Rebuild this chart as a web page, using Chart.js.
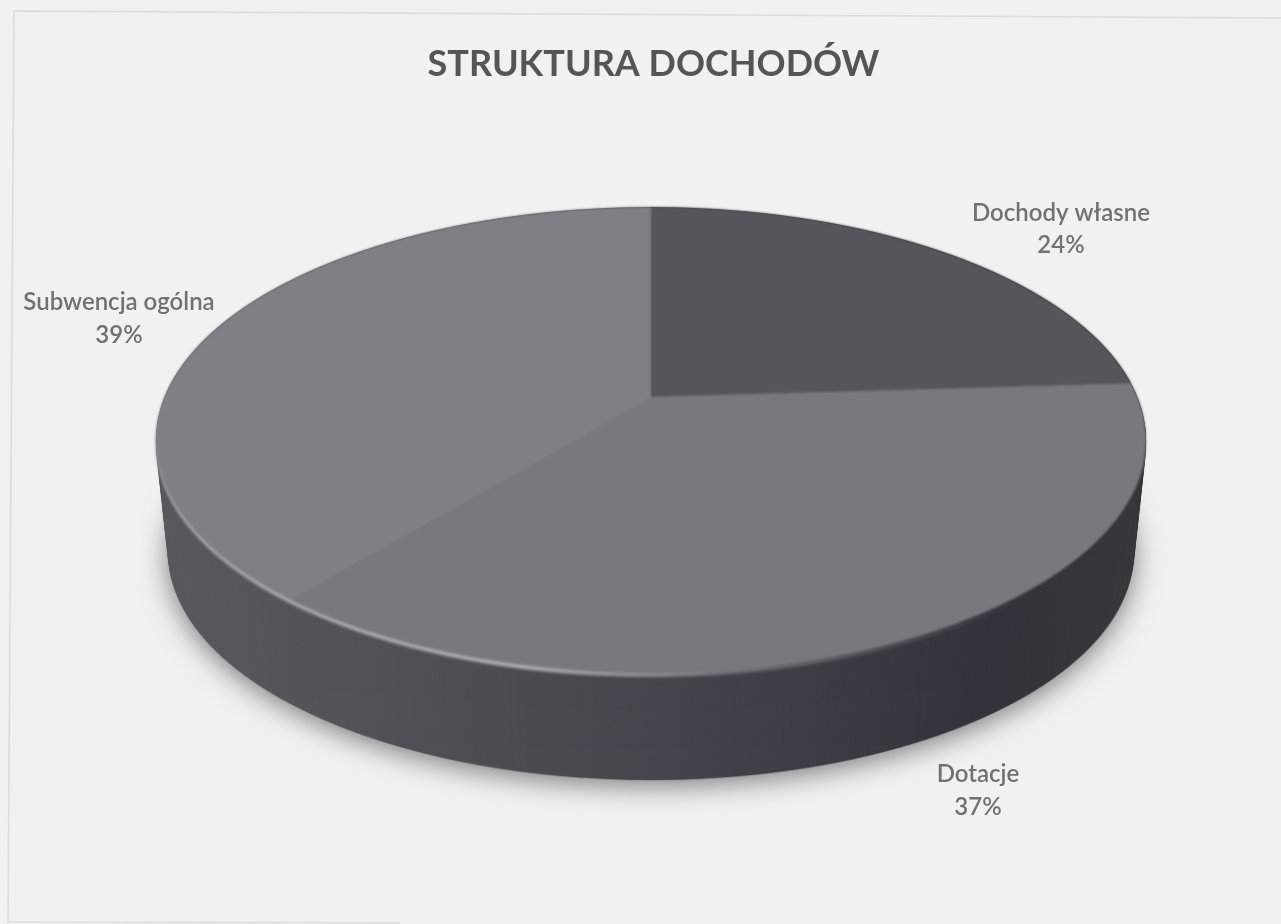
<!DOCTYPE html>
<html lang="pl">
<head>
<meta charset="utf-8">
<title>Struktura dochodów</title>
<script src="https://cdn.jsdelivr.net/npm/chart.js@4/dist/chart.umd.min.js"></script>
<style>
  html, body { margin: 0; padding: 0; background: #f1f1f1; overflow: hidden; }
  canvas { display: block; }
</style>
</head>
<body>
<canvas id="chart" width="1281" height="924"></canvas>
<script>
const CATEGORIES = ['Dochody własne', 'Dotacje', 'Subwencja ogólna'];
const SHARES = [24, 37, 39];
const FACE_COLORS = ['#55555b', '#78787f', '#7f7f85'];

// where each label is centred (first line, second line)
const LABEL_SPOTS = [[1061, 213, 245], [978, 774, 807], [119, 302, 335]];

// perspective of the disc: apex position and projection constants
const APEX_X = 651, APEX_Y = 397;
const TOP_Y = 207, BOTTOM_Y = 673;
const SPREAD_X = 486.5, SPREAD_Y = 225, TILT = 0.1845;
const WALL_DROP = 113, WALL_SHRINK = 0.025, WALL_STEPS = 110;

// project the unit disc row by row, so the apex sits off centre like in a 3D pie
function paintDisc(target, arcs, fills) {
    const R = arcs[0].outerRadius;
    const cx = arcs[0].x, cy = arcs[0].y;
    for (let row = TOP_Y; row <= BOTTOM_Y; row++) {
        const t = row + 0.5 - APEX_Y;
        const v = t / (SPREAD_Y + TILT * t);
        const w = 1 - TILT * v;
        const sx = SPREAD_X / (w * R);
        const sy = SPREAD_Y / (w * w * R);
        target.save();
        target.beginPath();
        target.rect(0, row, target.canvas.width, 1);
        target.clip();
        target.transform(sx, 0, 0, sy, APEX_X - cx * sx, row + 0.5 - (cy + v * R) * sy);
        arcs.forEach((arc, i) => {
            const keep = arc.options;
            arc.options = Object.assign({}, keep, { backgroundColor: fills(target, arc, i) });
            arc.draw(target);
            arc.options = keep;
        });
        target.restore();
    }
}

function layer(chart) {
    const c = document.createElement('canvas');
    c.width = chart.width;
    c.height = chart.height;
    return c;
}

function sweep(ctx, arc, stops) {
    const g = ctx.createLinearGradient(arc.x - arc.outerRadius, 0, arc.x + arc.outerRadius, 0);
    stops.forEach(s => g.addColorStop(s[0], s[1]));
    return g;
}

const WALL_STOPS = [[0, '#5b5d60'], [0.3, '#505157'], [0.55, '#43444b'], [0.8, '#34343c'], [1, '#3a3c3d']];
const RIM_STOPS = [[0, 'rgba(170,172,172,0.9)'], [0.4, 'rgba(172,172,176,1)'], [0.62, 'rgba(140,140,146,0.5)'], [0.85, 'rgba(120,120,126,0)'], [1, 'rgba(120,120,126,0)']];

const disc3d = {
    id: 'disc3d',
    beforeDraw(chart) {
        const ctx = chart.ctx;
        ctx.save();
        ctx.strokeStyle = '#dcdcdc';
        ctx.lineWidth = 1.5;
        ctx.beginPath();
        ctx.moveTo(1281, 18);
        ctx.lineTo(14, 11);
        ctx.lineTo(8, 922);
        ctx.lineTo(400, 923);
        ctx.stroke();
        ctx.restore();
    },
    beforeDatasetsDraw(chart) {
        const ctx = chart.ctx;
        const arcs = chart.getDatasetMeta(0).data;

        const wall = layer(chart);
        paintDisc(wall.getContext('2d'), arcs, (t, arc) => sweep(t, arc, WALL_STOPS));
        const rim = layer(chart);
        paintDisc(rim.getContext('2d'), arcs, (t, arc) => sweep(t, arc, RIM_STOPS));
        const face = layer(chart);
        paintDisc(face.getContext('2d'), arcs, (t, arc, i) => FACE_COLORS[i]);

        const midY = (TOP_Y + BOTTOM_Y) / 2;
        ctx.save();
        for (let step = WALL_STEPS; step >= 0; step--) {
            const f = step / WALL_STEPS;
            const s = 1 - WALL_SHRINK * f;
            if (step === WALL_STEPS) {
                ctx.shadowColor = 'rgba(40,40,40,0.6)';
                ctx.shadowBlur = 28;
                ctx.shadowOffsetY = 5;
            } else {
                ctx.shadowColor = 'transparent';
            }
            ctx.drawImage(wall,
                APEX_X - APEX_X * s,
                midY + WALL_DROP * f - midY * s,
                wall.width * s, wall.height * s);
        }
        ctx.filter = 'blur(1.5px)';
        ctx.drawImage(rim, 0, 4);
        ctx.filter = 'blur(0.8px)';
        ctx.drawImage(face, 0, 0);
        ctx.restore();
        return false;
    },
    afterDraw(chart) {
        const ctx = chart.ctx;
        ctx.save();
        ctx.textAlign = 'center';
        ctx.textBaseline = 'middle';
        ctx.font = '600 24px Lato';
        ctx.fillStyle = '#717171';
        CATEGORIES.forEach((name, i) => {
            const spot = LABEL_SPOTS[i];
            ctx.fillText(name, spot[0], spot[1]);
            ctx.fillText(SHARES[i] + '%', spot[0], spot[2]);
        });
        ctx.restore();
    }
};

new Chart(document.getElementById('chart'), {
    type: 'pie',
    data: {
        labels: CATEGORIES,
        datasets: [{
            data: SHARES,
            backgroundColor: FACE_COLORS,
            borderWidth: 0
        }]
    },
    options: {
        responsive: false,
        devicePixelRatio: 1,
        animation: false,
        layout: { padding: { left: 26, top: 43 } },
        plugins: {
            legend: { display: false },
            tooltip: { enabled: false },
            title: {
                display: true,
                text: 'STRUKTURA DOCHODÓW',
                color: '#555555',
                font: { family: 'Lato', size: 36, weight: 'bold' },
                padding: { top: 0, bottom: 10 }
            }
        }
    },
    plugins: [disc3d]
});
</script>
</body>
</html>
